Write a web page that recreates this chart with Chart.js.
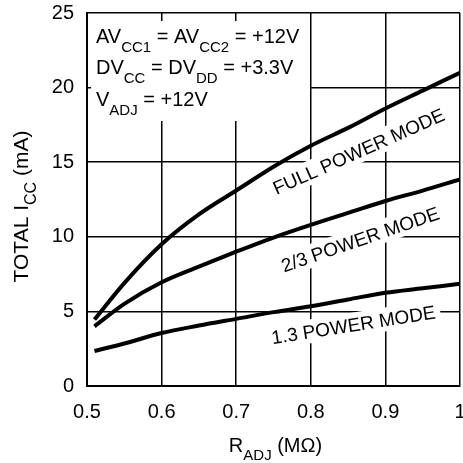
<!DOCTYPE html>
<html>
<head>
<meta charset="utf-8">
<script src="https://cdn.jsdelivr.net/npm/chart.js@4.4.1/dist/chart.umd.min.js"></script>
<style>
  html, body { margin: 0; padding: 0; background: #fff; }
  #wrap { width: 463px; height: 463px; }
</style>
</head>
<body>
<div id="wrap"><canvas id="c" width="463" height="463"></canvas></div>
<script>
// R_ADJ (Mohm) sample points
var rAdj = [0.51, 0.55, 0.6, 0.65, 0.7, 0.75, 0.8, 0.85, 0.9, 0.95, 1.0];
// total Icc (mA) per mode
var fullPower  = [4.45, 6.9, 9.5, 11.5, 13.1, 14.7, 16.1, 17.3, 18.6, 19.8, 21.0];
var twoThirds  = [4.0, 5.5, 6.95, 8.0, 9.0, 9.95, 10.8, 11.6, 12.4, 13.1, 13.85];
var oneThird   = [2.35, 2.85, 3.55, 4.05, 4.5, 4.95, 5.35, 5.8, 6.25, 6.55, 6.85];

var xTickLabels = ['0.5', '0.6', '0.7', '0.8', '0.9', '1'];
var yTickLabels = ['0', '5', '10', '15', '20', '25'];

var curveLabels = ['FULL POWER MODE', '2/3 POWER MODE', '1.3 POWER MODE'];

var FONT = '"Liberation Sans", Arial, Helvetica, sans-serif';

function pts(ys) {
  return rAdj.map(function(x, i) { return { x: x, y: ys[i] }; });
}

function curve(ys) {
  return {
    data: pts(ys),
    borderColor: '#000',
    borderWidth: 4,
    pointRadius: 0,
    fill: false,
    cubicInterpolationMode: 'monotone'
  };
}

// draws text made of normal + subscript pieces, starting at x on baseline y
function richWidth(ctx, parts, size, subSize) {
  var w = 0;
  parts.forEach(function(p) {
    ctx.font = (p.sub ? subSize : size) + 'px ' + FONT;
    w += ctx.measureText(p.t).width;
  });
  return w;
}
function richText(ctx, parts, x, y, size, subSize, subDrop) {
  parts.forEach(function(p) {
    ctx.font = (p.sub ? subSize : size) + 'px ' + FONT;
    ctx.fillText(p.t, x, p.sub ? y + subDrop : y);
    x += ctx.measureText(p.t).width;
  });
}

function angledLabel(ctx, text, cx, cy, deg, size) {
  ctx.save();
  ctx.translate(cx, cy);
  ctx.rotate(deg * Math.PI / 180);
  ctx.font = size + 'px ' + FONT;
  var w = ctx.measureText(text).width;
  var h = size * 0.72;
  var pad = 5;
  ctx.fillStyle = '#fff';
  ctx.fillRect(-w / 2 - pad, -h / 2 - pad, w + pad * 2, h + pad * 2);
  ctx.fillStyle = '#000';
  ctx.textAlign = 'left';
  ctx.textBaseline = 'alphabetic';
  ctx.fillText(text, -w / 2, h / 2);
  ctx.restore();
}

var notes = {
  id: 'notes',
  beforeDatasetsDraw: function(chart) {
    var ctx = chart.ctx;
    var a = chart.chartArea;
    var xs = chart.scales.x, ys = chart.scales.y;

    // conditions box
    ctx.save();
    ctx.fillStyle = '#fff';
    ctx.fillRect(a.left + 4, a.top + 8, 219, 100);
    ctx.fillStyle = '#000';
    ctx.textBaseline = 'alphabetic';
    var lx = a.left + 9;
    richText(ctx, [{t: 'AV'}, {t: 'CC1', sub: true}, {t: ' = AV'}, {t: 'CC2', sub: true}, {t: ' = +12V'}],
      lx, a.top + 30, 20, 15, 9);
    richText(ctx, [{t: 'DV'}, {t: 'CC', sub: true}, {t: ' = DV'}, {t: 'DD', sub: true}, {t: ' = +3.3V'}],
      lx, a.top + 61, 20, 15, 9);
    richText(ctx, [{t: 'V'}, {t: 'ADJ', sub: true}, {t: ' = +12V'}],
      lx, a.top + 93, 20, 15, 9);
    ctx.restore();

    // curve names
    angledLabel(ctx, curveLabels[0], xs.getPixelForValue(0.864), ys.getPixelForValue(15.75), -24, 19);
    angledLabel(ctx, curveLabels[1], xs.getPixelForValue(0.866), ys.getPixelForValue(9.85), -19, 19);
    angledLabel(ctx, curveLabels[2], xs.getPixelForValue(0.857), ys.getPixelForValue(4.12), -9, 19);
  },
  afterDraw: function(chart) {
    var ctx = chart.ctx;
    var a = chart.chartArea;
    ctx.save();
    ctx.fillStyle = '#000';
    ctx.textBaseline = 'alphabetic';

    // x axis title
    var xt = [{t: 'R'}, {t: 'ADJ', sub: true}, {t: ' (M\u03A9)'}];
    var w = richWidth(ctx, xt, 20, 15);
    richText(ctx, xt, (a.left + a.right) / 2 + 2 - w / 2, 452, 20, 15, 8);

    // y axis title
    var yt = [{t: 'TOTAL I'}, {t: 'CC', sub: true}, {t: ' (mA)'}];
    var wy = richWidth(ctx, yt, 21, 16);
    ctx.translate(28, (a.top + a.bottom) / 2 + 7);
    ctx.rotate(-Math.PI / 2);
    richText(ctx, yt, -wy / 2, 0, 21, 16, 8);
    ctx.restore();
  }
};

new Chart(document.getElementById('c'), {
  type: 'line',
  data: {
    datasets: [curve(fullPower), curve(twoThirds), curve(oneThird)]
  },
  options: {
    responsive: false,
    animation: false,
    layout: { padding: { top: 13, right: 3, left: 0, bottom: 0 } },
    plugins: { legend: { display: false }, tooltip: { enabled: false } },
    scales: {
      x: {
        type: 'linear',
        min: 0.5,
        max: 1,
        ticks: {
          stepSize: 0.1,
          color: '#000',
          font: { family: FONT, size: 20 },
          padding: 14,
          maxRotation: 0,
          callback: function(v, i) { return xTickLabels[i]; }
        },
        grid: { color: '#000', lineWidth: 1.5, drawTicks: false },
        border: { color: '#000', width: 2 },
        afterFit: function(s) { s.height = 77; s.paddingLeft = 0; s.paddingRight = 0; }
      },
      y: {
        min: 0,
        max: 25,
        ticks: {
          stepSize: 5,
          color: '#000',
          font: { family: FONT, size: 20 },
          padding: 13,
          callback: function(v, i) { return yTickLabels[i]; }
        },
        grid: { color: '#000', lineWidth: 1.5, drawTicks: false },
        border: { color: '#000', width: 2 },
        afterFit: function(s) { s.width = 87; s.paddingTop = 0; s.paddingBottom = 0; }
      }
    }
  },
  plugins: [notes]
});
</script>
</body>
</html>
